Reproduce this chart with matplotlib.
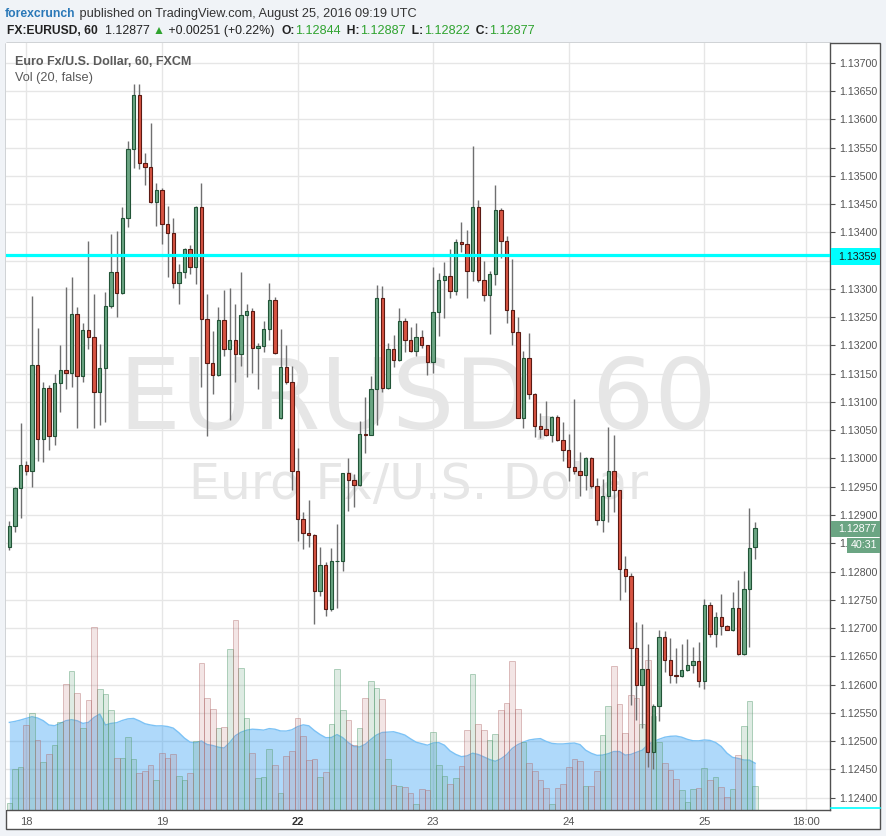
import matplotlib
matplotlib.use("Agg")
import matplotlib.pyplot as plt
import numpy as np
from matplotlib.patches import Rectangle
from matplotlib.lines import Line2D

# ---------------- data (EURUSD, 60 min, FXCM) ----------------
# x = trading-hour index, 0 = Aug 18 00:00 ; candles from 17th 21:00 to 25th 09:00
hours = list(range(-3, 130))

opens = [1.12844, 1.12880, 1.12947, 1.12989, 1.12978, 1.13165, 1.13035, 1.13125, 1.13040, 1.13133,
         1.13157, 1.13152, 1.13255, 1.13145, 1.13228, 1.13215, 1.13118, 1.13160, 1.13269, 1.13329,
         1.13292, 1.13426, 1.13548, 1.13642, 1.13522, 1.13516, 1.13454, 1.13474, 1.13414, 1.13398,
         1.13310, 1.13329, 1.13370, 1.13339, 1.13444, 1.13246, 1.13169, 1.13147, 1.13245, 1.13193,
         1.13209, 1.13184, 1.13253, 1.13260, 1.13195, 1.13199, 1.13229, 1.13281, 1.13072, 1.13162,
         1.13135, 1.12977, 1.12893, 1.12869, 1.12865, 1.12765, 1.12812, 1.12733, 1.12818, 1.12819,
         1.12975, 1.12962, 1.12953, 1.13043, 1.13042, 1.13123, 1.13284, 1.13125, 1.13193, 1.13174,
         1.13244, 1.13209, 1.13190, 1.13215, 1.13201, 1.13171, 1.13259, 1.13315, 1.13322, 1.13297,
         1.13382, 1.13380, 1.13331, 1.13445, 1.13315, 1.13290, 1.13326, 1.13440, 1.13385, 1.13262,
         1.13224, 1.13072, 1.13178, 1.13114, 1.13058, 1.13053, 1.13041, 1.13074, 1.13033, 1.13015,
         1.12985, 1.12977, 1.12971, 1.13001, 1.12951, 1.12892, 1.12934, 1.12977, 1.12944, 1.12805,
         1.12793, 1.12665, 1.12599, 1.12627, 1.12480, 1.12563, 1.12684, 1.12644, 1.12617, 1.12615,
         1.12626, 1.12635, 1.12642, 1.12607, 1.12741, 1.12690, 1.12720, 1.12704, 1.12697, 1.12735,
         1.12654, 1.12770, 1.12844]

highs = [1.12890, 1.12949, 1.13062, 1.12996, 1.13288, 1.13231, 1.13135, 1.13130, 1.13149, 1.13201,
         1.13304, 1.13321, 1.13268, 1.13240, 1.13384, 1.13291, 1.13203, 1.13295, 1.13397, 1.13402,
         1.13444, 1.13562, 1.13662, 1.13663, 1.13541, 1.13593, 1.13487, 1.13478, 1.13446, 1.13425,
         1.13344, 1.13373, 1.13377, 1.13447, 1.13487, 1.13291, 1.13225, 1.13268, 1.13298, 1.13302,
         1.13273, 1.13329, 1.13273, 1.13266, 1.13204, 1.13243, 1.13310, 1.13285, 1.13229, 1.13200,
         1.13164, 1.13019, 1.12905, 1.12926, 1.12866, 1.12843, 1.12817, 1.12842, 1.12884, 1.12975,
         1.13000, 1.12972, 1.13067, 1.13108, 1.13146, 1.13307, 1.13305, 1.13205, 1.13218, 1.13267,
         1.13249, 1.13232, 1.13240, 1.13228, 1.13201, 1.13339, 1.13328, 1.13347, 1.13371, 1.13388,
         1.13418, 1.13404, 1.13552, 1.13457, 1.13350, 1.13331, 1.13483, 1.13443, 1.13393, 1.13353,
         1.13250, 1.13190, 1.13222, 1.13116, 1.13081, 1.13102, 1.13075, 1.13076, 1.13064, 1.13043,
         1.13105, 1.13011, 1.13002, 1.13002, 1.12965, 1.12963, 1.13056, 1.13042, 1.12945, 1.12827,
         1.12798, 1.12710, 1.12708, 1.12671, 1.12565, 1.12697, 1.12695, 1.12683, 1.12664, 1.12671,
         1.12681, 1.12666, 1.12676, 1.12752, 1.12746, 1.12729, 1.12761, 1.12705, 1.12763, 1.12785,
         1.12801, 1.12912, 1.12887]

lows = [1.12838, 1.12870, 1.12895, 1.12971, 1.12950, 1.12995, 1.12994, 1.13015, 1.13023, 1.13082,
        1.13123, 1.13127, 1.13054, 1.13135, 1.13193, 1.13054, 1.13060, 1.13065, 1.13267, 1.13251,
        1.13291, 1.13409, 1.13513, 1.13512, 1.13484, 1.13452, 1.13411, 1.13380, 1.13321, 1.13301,
        1.13274, 1.13320, 1.13327, 1.13309, 1.13127, 1.13039, 1.13114, 1.13145, 1.13182, 1.13068,
        1.13135, 1.13164, 1.13144, 1.13152, 1.13122, 1.13188, 1.13210, 1.13185, 1.13070, 1.13132,
        1.12944, 1.12854, 1.12839, 1.12844, 1.12708, 1.12757, 1.12721, 1.12731, 1.12735, 1.12801,
        1.12907, 1.12915, 1.12952, 1.13009, 1.13042, 1.13060, 1.13117, 1.13123, 1.13161, 1.13172,
        1.13188, 1.13188, 1.13182, 1.13195, 1.13147, 1.13152, 1.13217, 1.13248, 1.13283, 1.13289,
        1.13365, 1.13283, 1.13314, 1.13313, 1.13279, 1.13221, 1.13306, 1.13355, 1.13240, 1.13201,
        1.13072, 1.13054, 1.13106, 1.13038, 1.13037, 1.13039, 1.13029, 1.13031, 1.12995, 1.12961,
        1.12972, 1.12933, 1.12944, 1.12948, 1.12882, 1.12870, 1.12888, 1.12905, 1.12750, 1.12764,
        1.12564, 1.12538, 1.12523, 1.12455, 1.12451, 1.12536, 1.12623, 1.12603, 1.12603, 1.12614,
        1.12624, 1.12621, 1.12595, 1.12592, 1.12684, 1.12666, 1.12688, 1.12697, 1.12694, 1.12652,
        1.12652, 1.12667, 1.12822]

closes = [1.12880, 1.12947, 1.12989, 1.12978, 1.13165, 1.13035, 1.13125, 1.13040, 1.13133, 1.13157,
          1.13152, 1.13255, 1.13145, 1.13228, 1.13215, 1.13118, 1.13160, 1.13269, 1.13329, 1.13292,
          1.13426, 1.13548, 1.13642, 1.13522, 1.13516, 1.13454, 1.13474, 1.13414, 1.13398, 1.13310,
          1.13329, 1.13370, 1.13339, 1.13444, 1.13246, 1.13169, 1.13147, 1.13245, 1.13193, 1.13209,
          1.13184, 1.13253, 1.13260, 1.13195, 1.13199, 1.13229, 1.13281, 1.13187, 1.13162, 1.13135,
          1.12977, 1.12893, 1.12869, 1.12865, 1.12765, 1.12812, 1.12733, 1.12818, 1.12819, 1.12975,
          1.12962, 1.12953, 1.13043, 1.13042, 1.13123, 1.13284, 1.13125, 1.13193, 1.13174, 1.13244,
          1.13209, 1.13190, 1.13215, 1.13201, 1.13171, 1.13259, 1.13315, 1.13322, 1.13297, 1.13382,
          1.13380, 1.13331, 1.13445, 1.13315, 1.13290, 1.13326, 1.13440, 1.13385, 1.13262, 1.13224,
          1.13072, 1.13178, 1.13114, 1.13058, 1.13053, 1.13041, 1.13074, 1.13033, 1.13015, 1.12985,
          1.12977, 1.12971, 1.13001, 1.12951, 1.12892, 1.12934, 1.12977, 1.12944, 1.12805, 1.12793,
          1.12665, 1.12599, 1.12627, 1.12480, 1.12563, 1.12684, 1.12644, 1.12617, 1.12615, 1.12626,
          1.12635, 1.12642, 1.12607, 1.12741, 1.12690, 1.12720, 1.12704, 1.12697, 1.12735, 1.12654,
          1.12770, 1.12842, 1.12877]

volumes = [7, 41, 43, 85, 97, 70, 48, 56, 65, 88,
           126, 139, 117, 82, 110, 183, 121, 116, 100, 52,
           52, 73, 51, 37, 39, 45, 30, 57, 52, 56,
           34, 30, 37, 69, 147, 112, 101, 82, 83, 161,
           190, 142, 92, 57, 32, 33, 61, 45, 17, 54,
           59, 92, 74, 50, 51, 33, 38, 86, 141, 100,
           90, 65, 82, 112, 129, 122, 111, 51, 25, 24,
           23, 17, 6, 21, 20, 78, 45, 34, 26, 32,
           44, 80, 136, 86, 80, 70, 76, 100, 107, 149,
           101, 68, 47, 39, 30, 22, 6, 22, 26, 43,
           51, 49, 24, 24, 39, 75, 104, 144, 106, 77,
           115, 112, 86, 150, 94, 68, 47, 40, 31, 20,
           8, 21, 22, 42, 30, 33, 23, 13, 21, 55,
           84, 109, 24]

# Vol(20) average for the first 19 bars (history before the visible range)
vol_ma_head = [87.6, 88.6, 90.0, 91.6, 93.3, 92.0, 89.3, 85.0, 84.3, 86.6,
               89.3, 90.3, 89.3, 86.6, 87.6, 92.6, 95.9, 85.0, 86.6]

day_ticks = [0, 24, 48, 72, 96, 120, 138]
day_labels = ["18", "19", "22", "23", "24", "25", "18:00"]
hline_level = 1.13359
last_price = 1.12877

# ---------------- figure ----------------
W, H = 887, 836
fig = plt.figure(figsize=(W / 100, H / 100), dpi=100)
fig.patch.set_facecolor('#f0f3f7')
FONT = ['Liberation Sans', 'DejaVu Sans']

L, R, T, B = 6.5, 830, 43, 810
rect = [L / W, (H - B) / H, (R - L) / W, (B - T) / H]

fig.patches.append(Rectangle((6 / W, 1 - 829 / H), (880 - 6) / W, (829 - 43) / H,
                             transform=fig.transFigure, facecolor='white',
                             edgecolor='#505050', lw=1.0, zorder=-5))

x = np.array(hours, dtype=float)
o = np.array(opens); h = np.array(highs); l = np.array(lows); c = np.array(closes)
v = np.array(volumes, dtype=float)
n = len(x)
xlim = ((L - 26.3) / 5.65, (R - 26.3) / 5.65)
ylim = (1.124 - (B - 797.7) / 28.27 * 0.0005, 1.137 + (62.7 - T) / 28.27 * 0.0005)

# background / grid / watermark axes
axg = fig.add_axes(rect, zorder=0)
axg.set_xlim(*xlim); axg.set_ylim(*ylim)
axg.set_facecolor('white')
for s in axg.spines.values():
    s.set_visible(False)
axg.set_xticks([]); axg.set_yticks([])
for p in np.arange(1.1240, 1.13701, 0.0005):
    axg.axhline(p, color='#e6e6e6', lw=1.0, zorder=1)
for t in day_ticks:
    axg.axvline(t, color='#e6e6e6', lw=1.0, zorder=1)
axg.text((418 - L) / (R - L), (B - 429) / (B - T), "EURUSD, 60", transform=axg.transAxes,
         ha='center', va='baseline', fontsize=70.5, color='#e6e6e6', family='DejaVu Sans', zorder=0)
axg.text((419 - L) / (R - L), (B - 499) / (B - T), "Euro Fx/U.S. Dollar", transform=axg.transAxes,
         ha='center', va='baseline', fontsize=35.3, color='#e6e6e6', family='DejaVu Sans', zorder=0)

# volume axes
axv = fig.add_axes(rect, zorder=1)
axv.set_facecolor('none')
axv.set_xlim(*xlim); axv.set_ylim(0, B - T)
for s in axv.spines.values():
    s.set_visible(False)
axv.set_xticks([]); axv.set_yticks([])
ma = np.empty(n)
ma[:19] = vol_ma_head
for k in range(19, n):
    ma[k] = v[k - 19:k + 1].mean()
axv.fill_between(x, 0, ma, color='#2196f3', alpha=0.36, lw=0, zorder=1)
axv.plot(x, ma, color='#7cc2f5', lw=1.0, zorder=1.5)
up = c >= o
axv.bar(x[up], v[up], width=1.0, color=(0.42, 0.65, 0.51, 0.22),
        edgecolor=(0.35, 0.62, 0.45, 0.45), lw=0.7, zorder=2)
axv.bar(x[~up], v[~up], width=1.0, color=(0.75, 0.45, 0.45, 0.18),
        edgecolor=(0.68, 0.40, 0.40, 0.40), lw=0.7, zorder=2)

# price axes
axp = fig.add_axes(rect, zorder=2)
axp.set_facecolor('none')
axp.set_xlim(*xlim); axp.set_ylim(*ylim)
axp.vlines(x, l, h, color='#6f6f70', lw=1.0, zorder=2)
lo = np.minimum(o, c)
bh = np.maximum(np.abs(c - o), 0.000012)
axp.bar(x[up], bh[up], bottom=lo[up], width=0.6, color='#6ba583',
        edgecolor='#225437', lw=0.8, zorder=3)
axp.bar(x[~up], bh[~up], bottom=lo[~up], width=0.6, color='#d75442',
        edgecolor='#5b1a13', lw=0.8, zorder=3)
axp.axhline(hline_level, color='#00ffff', lw=2.3, zorder=5)

for side in ['left', 'top']:
    axp.spines[side].set_visible(False)
for side in ['right', 'bottom']:
    axp.spines[side].set_color('#505050')
    axp.spines[side].set_linewidth(1.0)

yt = np.arange(1.1240, 1.13701, 0.0005)
ylabels = []
for p in yt:
    s = f"{p:.5f}"
    if abs(p - 1.1335) < 1e-7:
        s = ""            # hidden behind the horizontal-line price box
    elif abs(p - 1.1285) < 1e-7:
        s = "1."          # mostly hidden behind the countdown box
    ylabels.append(s)
axp.yaxis.tick_right()
axp.set_yticks(yt)
axp.set_yticklabels(ylabels)
axp.tick_params(axis='y', direction='out', length=3.5, width=0.8, color='#505050',
                labelsize=7.7, labelcolor='#555555', pad=3)
axp.set_xticks(day_ticks)
axp.set_xticklabels(day_labels)
axp.tick_params(axis='x', length=0, labelsize=8.0, labelcolor='#555555', pad=5)
for lab in axp.get_xticklabels() + axp.get_yticklabels():
    lab.set_family(FONT)
axp.get_xticklabels()[2].set_fontweight('bold')
axp.get_xticklabels()[2].set_color('#333333')

# ---------------- right-axis price boxes ----------------
def px_box(x0, y0, x1, y1, fc, z=20):
    fig.patches.append(Rectangle((x0 / W, 1 - y1 / H), (x1 - x0) / W, (y1 - y0) / H,
                                 transform=fig.transFigure, facecolor=fc, edgecolor='none', zorder=z))

def px_text(xp, yp, s, **kw):
    return fig.text(xp / W, 1 - yp / H, s, **kw)

px_box(831, 248, 880, 265, '#00ffff')
px_text(838, 256.5, f"{hline_level:.5f}", ha='left', va='center', fontsize=7.7,
        color='#1a1a1a', family=FONT, zorder=21)
px_box(831, 521, 880, 537, '#6ba583')
px_text(838, 529, f"{last_price:.5f}", ha='left', va='center', fontsize=7.7,
        color='white', family=FONT, zorder=21)
px_box(847, 538, 880, 553, '#6ba583')
px_text(851, 545.5, "40:31", ha='left', va='center', fontsize=7.7,
        color='white', family=FONT, zorder=21)
fig.lines.append(Line2D([831 / W, 880 / W], [1 - 808 / H, 1 - 808 / H],
                        transform=fig.transFigure, color='#00ffff', lw=1.2, zorder=20))

# ---------------- header texts ----------------
renderer = fig.canvas.get_renderer()

def runs(x0, y0, parts, size=8.7):
    xc = x0
    for s, col, wt, sz in parts:
        t = fig.text(xc / W, 1 - y0 / H, s, ha='left', va='baseline', fontsize=sz,
                     color=col, fontweight=wt, family=FONT)
        bb = t.get_window_extent(renderer)
        xc = bb.x1

G = '#2fa32f'
D = '#222222'
runs(5, 17, [("forexcrunch", '#2a78b8', 'bold', 8.7),
             (" published on TradingView.com, August 25, 2016 09:19 UTC", '#333333', 'normal', 9.15)])
runs(7, 34, [("FX:EURUSD, 60", D, 'bold', 8.7),
             ("  1.12877 ", D, 'normal', 8.9),
             ("\u25B2", G, 'normal', 8.7),
             (" +0.00251 (+0.22%)  ", D, 'normal', 8.9),
             ("O:", D, 'bold', 8.7), ("1.12844", G, 'normal', 9.1),
             ("  H:", D, 'bold', 8.7), ("1.12887", G, 'normal', 9.1),
             ("  L:", D, 'bold', 8.7), ("1.12822", G, 'normal', 9.1),
             ("  C:", D, 'bold', 8.7), ("1.12877", G, 'normal', 9.1)])
runs(15, 65, [("Euro Fx/U.S. Dollar, 60, FXCM", '#5a5a5a', 'bold', 9.0)])
runs(15, 81, [("Vol (20, false)", '#5a5a5a', 'normal', 9.2)])

fig.savefig("out.png", dpi=100, facecolor=fig.get_facecolor())
